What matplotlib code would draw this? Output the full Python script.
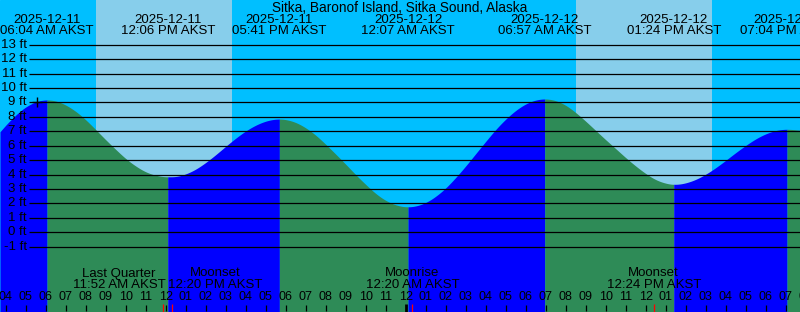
import numpy as np
import matplotlib
matplotlib.use('Agg')
import matplotlib.pyplot as plt
import matplotlib.transforms as mtrans

plt.rcParams['font.family'] = ['Liberation Sans', 'DejaVu Sans']

# --- data (hours counted from 2025-12-11 00:00 AKST) ---
title = 'Sitka, Baronof Island, Sitka Sound, Alaska'

tide_hours = [6.067, 12.100, 17.683, 24.117, 30.950, 37.400, 43.067]
tide_feet = [9.17, 3.85, 7.85, 1.77, 9.24, 3.33, 7.14]
tide_dates = ['2025-12-11', '2025-12-11', '2025-12-11', '2025-12-12',
              '2025-12-12', '2025-12-12', '2025-12-12']
tide_times = ['06:04 AM AKST', '12:06 PM AKST', '05:41 PM AKST', '12:07 AM AKST',
              '06:57 AM AKST', '01:24 PM AKST', '07:04 PM AKST']

# water level, half-hourly between the extremes
curve_hours = [3.715, 4.0, 4.5, 5.0, 5.5, 6.067,
               6.5, 7.0, 7.5, 8.0, 8.5, 9.0, 9.5, 10.0, 10.5, 11.0, 11.5, 12.1,
               12.5, 13.0, 13.5, 14.0, 14.5, 15.0, 15.5, 16.0, 16.5, 17.0, 17.683,
               18.0, 18.5, 19.0, 19.5, 20.0, 20.5, 21.0, 21.5, 22.0, 22.5, 23.0,
               23.5, 24.117,
               24.5, 25.0, 25.5, 26.0, 26.5, 27.0, 27.5, 28.0, 28.5, 29.0, 29.5,
               30.0, 30.5, 30.95,
               31.5, 32.0, 32.5, 33.0, 33.5, 34.0, 34.5, 35.0, 35.5, 36.0, 36.5,
               37.0, 37.4,
               37.5, 38.0, 38.5, 39.0, 39.5, 40.0, 40.5, 41.0, 41.5, 42.0, 42.5,
               43.067, 43.715]
curve_feet = [6.97, 7.42, 8.12, 8.68, 9.03, 9.17,
              9.10, 8.82, 8.38, 7.80, 7.12, 6.42, 5.75, 5.12, 4.60, 4.20, 3.96, 3.85,
              3.87, 4.05, 4.38, 4.84, 5.38, 5.96, 6.52, 7.02, 7.42, 7.70, 7.85,
              7.81, 7.61, 7.24, 6.73, 6.10, 5.42, 4.72, 4.00, 3.32, 2.70, 2.22,
              1.91, 1.77,
              1.83, 2.07, 2.50, 3.08, 3.80, 4.60, 5.45, 6.30, 7.12, 7.84, 8.44,
              8.89, 9.16, 9.24,
              9.12, 8.80, 8.30, 7.70, 7.06, 6.42, 5.80, 5.18, 4.60, 4.08, 3.66,
              3.41, 3.33,
              3.33, 3.43, 3.67, 4.03, 4.48, 4.99, 5.52, 6.02, 6.47, 6.82, 7.05,
              7.14, 7.08]

sunrise_hours = [8.515, 32.515]
sunset_hours = [15.315, 39.315]

moon_hours = [11.867, 12.333, 24.333, 36.400]
moon_names = ['Last Quarter', 'Moonset', 'Moonrise', 'Moonset']
moon_times = ['11:52 AM AKST', '12:20 PM AKST', '12:20 AM AKST', '12:24 PM AKST']
moon_shift_px = [-44, 43, 0, 0]

now_hour, now_feet = 5.565, 9.05
ft_levels = list(range(-1, 14))

x0, x1 = 3.715, 43.715
y0, y1 = -5.52, 16.10


def spline(x, y, d0, dn, xn):
    # clamped cubic spline through the read points of one limb
    x = np.asarray(x, float); y = np.asarray(y, float)
    n = len(x); h = np.diff(x)
    A = np.zeros((n, n)); r = np.zeros(n)
    A[0, 0], A[0, 1] = 2 * h[0], h[0]
    r[0] = 3 * ((y[1] - y[0]) / h[0] - d0)
    A[-1, -2], A[-1, -1] = h[-1], 2 * h[-1]
    r[-1] = 3 * (dn - (y[-1] - y[-2]) / h[-1])
    for i in range(1, n - 1):
        A[i, i - 1], A[i, i], A[i, i + 1] = h[i - 1], 2 * (h[i - 1] + h[i]), h[i]
        r[i] = 3 * ((y[i + 1] - y[i]) / h[i] - (y[i] - y[i - 1]) / h[i - 1])
    c = np.linalg.solve(A, r)
    b = (y[1:] - y[:-1]) / h - h * (2 * c[:-1] + c[1:]) / 3
    d = (c[1:] - c[:-1]) / (3 * h)
    i = np.clip(np.searchsorted(x, xn) - 1, 0, n - 2)
    dx = xn - x[i]
    return y[i] + b[i] * dx + c[i] * dx**2 + d[i] * dx**3


fig = plt.figure(figsize=(8, 3.12), dpi=100)
ax = fig.add_axes([0, 0, 1, 1])
ax.set_xlim(x0, x1)
ax.set_ylim(y0, y1)
ax.axis('off')

# night / day background
ax.axvspan(x0, x1, color='#00BFFF', zorder=0)
for sr, ss in zip(sunrise_hours, sunset_hours):
    ax.axvspan(sr, ss, color='#87CEEB', zorder=1, lw=0)

# tide fill: green when falling, blue when rising
ch = np.array(curve_hours); cf = np.array(curve_feet)
bounds = [x0] + tide_hours + [x1]
for k in range(len(bounds) - 1):
    a, b = bounds[k], bounds[k + 1]
    sel = (ch >= a - 1e-6) & (ch <= b + 1e-6)
    px, py = ch[sel], cf[sel]
    d0 = 0.0 if k > 0 else (py[1] - py[0]) / (px[1] - px[0])
    dn = 0.0 if k < len(bounds) - 2 else (py[-1] - py[-2]) / (px[-1] - px[-2])
    tt = np.linspace(a, b, 300)
    hh = spline(px, py, d0, dn, tt)
    falling = py[-1] < py[0]
    ax.fill_between(tt, hh, y0, color='#2E8B57' if falling else '#0000FF',
                    lw=0, zorder=2)

# height lines and labels
yt = ax.get_yaxis_transform()
ax.hlines(ft_levels, 29 / 800, 1, transform=yt, colors='black', lw=0.9, zorder=3)
for lv in ft_levels:
    ax.text(27 / 800, lv, f'{lv} ft', transform=yt, ha='right', va='center',
            fontsize=9.5, color='black', zorder=4)

ax.plot([now_hour], [now_feet], marker='+', ms=7, mew=1, color='black', zorder=4)

xt = ax.get_xaxis_transform()
ax.text(0.5, 1 - 7.5 / 312, title, transform=ax.transAxes, ha='center',
        va='center', fontsize=9.8, zorder=4)
for th, d, tm in zip(tide_hours, tide_dates, tide_times):
    ax.text(th, 1 - 19.7 / 312, d, transform=xt, ha='center', va='center',
            fontsize=9.5, zorder=4)
    ax.text(th, 1 - 31.3 / 312, tm, transform=xt, ha='center', va='center',
            fontsize=9.5, zorder=4)

for mh, name, tm, sh in zip(moon_hours, moon_names, moon_times, moon_shift_px):
    tr = mtrans.offset_copy(xt, fig=fig, x=sh, y=0, units='dots')
    ax.text(mh, 1 - 273.5 / 312, name, transform=tr, ha='center', va='center',
            fontsize=9.5, zorder=4)
    ax.text(mh, 1 - 285 / 312, tm, transform=tr, ha='center', va='center',
            fontsize=9.5, zorder=4)

# hour ticks and labels
for hr in range(4, 45):
    lab = f'{(hr % 12) or 12:02d}'
    ax.text(hr, 1 - 297.5 / 312, lab, transform=xt, ha='center', va='center',
            fontsize=9, zorder=4)
    if hr % 24 == 0:
        ax.vlines(hr, 0, 8 / 312, transform=xt, colors='black', lw=2, zorder=4)
    else:
        ax.vlines(hr, 1 / 312, 7 / 312, transform=xt, colors='black', lw=0.9, zorder=4)
ax.vlines(moon_hours, 0, 8 / 312, transform=xt, colors='red', lw=0.9, zorder=4)

fig.savefig('out.png', dpi=100)
